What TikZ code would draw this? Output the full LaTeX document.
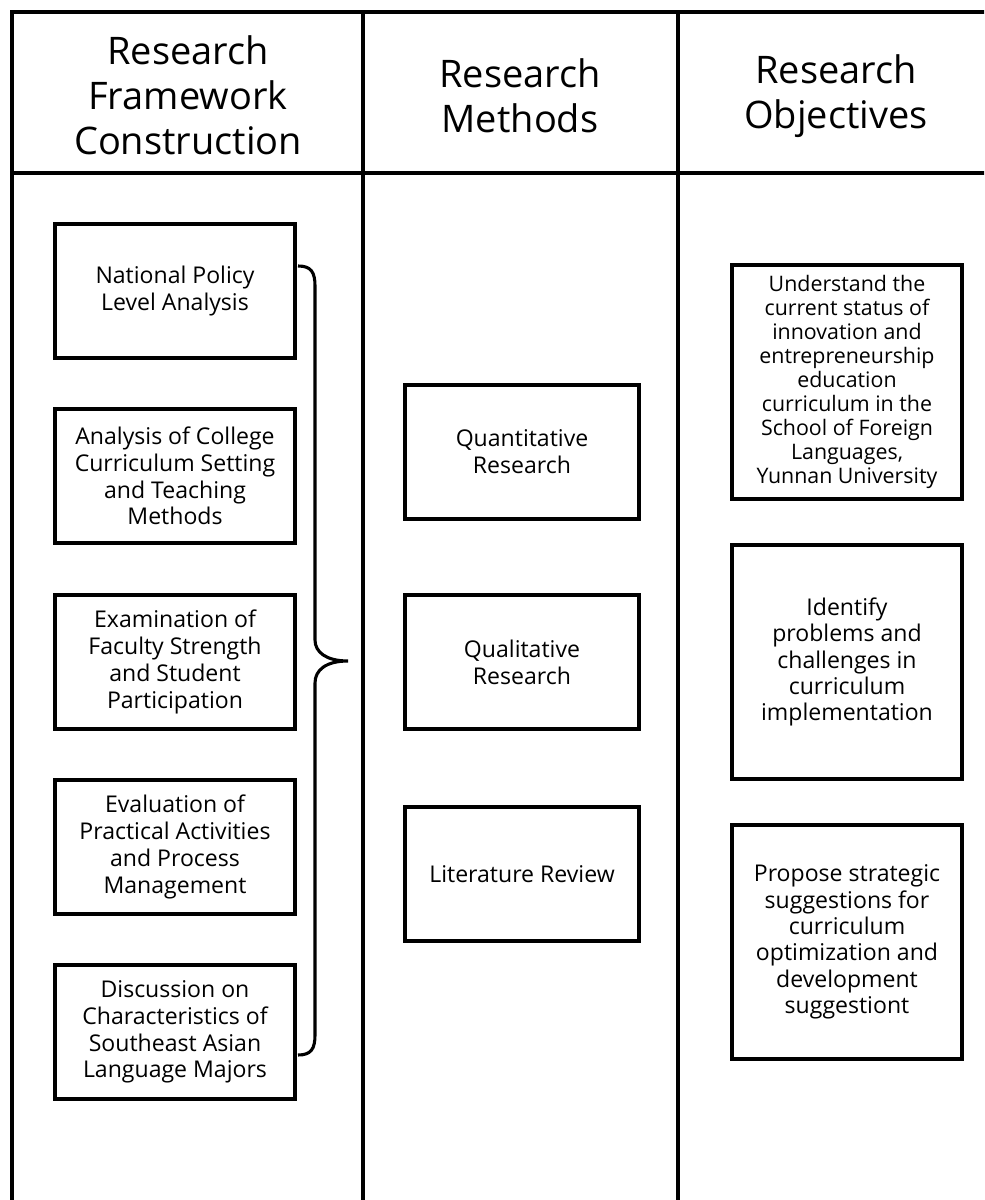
\documentclass[tikz,border=0pt]{standalone}
\usepackage{fontspec}
\setmainfont{Open Sans}
\usetikzlibrary{positioning}

\begin{document}
\begin{tikzpicture}[x=0.025cm, y=-0.025cm,
          hdr/.style={align=center, font=\fontsize{27}{32}\selectfont},
          fbx/.style={rectangle, draw, line width=2.3pt, inner sep=2pt,
                      minimum width=6.0cm, minimum height=3.35cm,
                      align=center, font=\fontsize{16.4}{19}\selectfont},
          mbx/.style={fbx, minimum width=5.85cm},
          obx/.style={fbx, minimum width=5.75cm, minimum height=5.85cm,
                      font=\fontsize{16.4}{18.8}\selectfont},
          rule/.style={line width=2.4pt},
          brc/.style={line width=2.2pt}
        ]
        \useasboundingbox (0,0) rectangle (984,1200);
        \clip (0,0) rectangle (984,1200);

        % frame and columns
        \draw[rule] (12,12) rectangle (1000,1220);
        \draw[rule] (12,173) -- (1000,173);
        \foreach \cx in {363, 678} {
          \draw[rule] (\cx,12) -- (\cx,1220);
        }

        \node[hdr] (h1) at (188,95) {Research\\Framework\\Construction};
        \node[hdr] (h2) at (520,96) {Research\\Methods};
        \node[hdr] (h3) at (836,96) {Research\\Objectives};

        % framework column
        \node[fbx] (f1) at (175,291)  {National Policy\\Level Analysis};
        \node[fbx] (f2) at (175,476)  {Analysis of College\\Curriculum Setting\\and Teaching\\Methods};
        \node[fbx] (f3) at (175,662)  {Examination of\\Faculty Strength\\and Student\\Participation};
        \node[fbx] (f4) at (175,847)  {Evaluation of\\Practical Activities\\and Process\\Management};
        \node[fbx] (f5) at (175,1032) {Discussion on\\Characteristics of\\Southeast Asian\\Language Majors};

        % brace gathering the five items
        \coordinate (bt) at (298,266);
        \coordinate (bm) at (348,661);
        \coordinate (bb) at (298,1055);
        \draw[brc] (bt) .. controls (311,266) and (315,272) .. (315,286)
              -- (315,640) .. controls (315,652) and (326,661) .. (bm)
              .. controls (326,661) and (315,670) .. (315,683)
              -- (315,1035) .. controls (315,1049) and (311,1055) .. (bb);

        % methods column
        \node[mbx] (m1) at (522,452) {Quantitative\\Research};
        \node[mbx] (m2) at (522,662) {Qualitative\\Research};
        \node[mbx] (m3) at (522,874) {Literature Review};

        % objectives column
        \node[obx, font=\fontsize{15.2}{17}\selectfont] (o1) at (847,382)
              {Understand the\\current status of\\innovation and\\entrepreneurship\\education\\curriculum in the\\School of Foreign\\Languages,\\Yunnan University};
        \node[obx] (o2) at (847,662) {Identify\\problems and\\challenges in\\curriculum\\implementation};
        \node[obx] (o3) at (847,942) {Propose strategic\\suggestions for\\curriculum\\optimization and\\development\\suggestiont};
      \end{tikzpicture}
\end{document}
